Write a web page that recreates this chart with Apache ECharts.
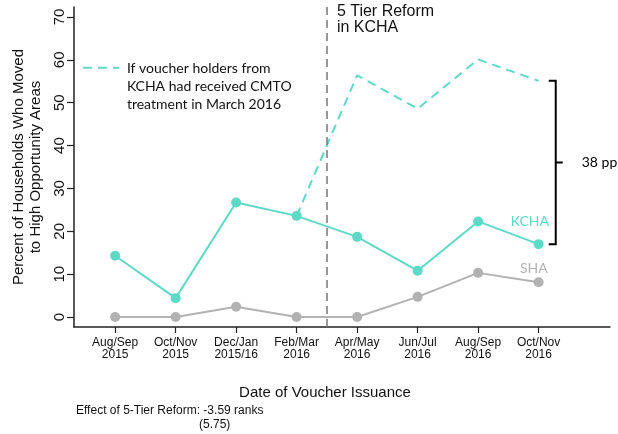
<!DOCTYPE html>
<html>
<head>
<meta charset="utf-8">
<script src="https://cdn.jsdelivr.net/npm/echarts@6/dist/echarts.min.js"></script>
<style>
  html, body { margin: 0; padding: 0; background: #fff; }
  #chart { width: 618px; height: 434px; }
</style>
</head>
<body>
<div id="chart"></div>
<script>
// data
const periods = ['Aug/Sep\n2015', 'Oct/Nov\n2015', 'Dec/Jan\n2015/16', 'Feb/Mar\n2016',
  'Apr/May\n2016', 'Jun/Jul\n2016', 'Aug/Sep\n2016', 'Oct/Nov\n2016'];
const kcha = [14.3, 4.4, 26.7, 23.6, 18.7, 10.8, 22.3, 17.0];
const sha = [0, 0, 2.4, 0, 0, 4.7, 10.3, 8.1];
const cmto = [null, null, null, 23.6, 56.4, 48.6, 60.1, 55.1];
const yTicks = [0, 10, 20, 30, 40, 50, 60, 70];
const reformAt = 3.5;

const teal = '#5dd9c6';
const grey = '#b2b2b2';
const sans = 'Liberation Sans';
const calib = 'Lato';

let chartDom = document.getElementById('chart');
let chart = echarts.init(chartDom, null, { renderer: 'canvas' });

let idx = periods.map((p, i) => i);
const pairs = arr => arr.map((v, i) => [i, v]);

let option = {
  animation: false,
  grid: { left: 74, right: 8, top: 7, bottom: 107, outerBoundsMode: 'none' },
  xAxis: {
    type: 'value',
    min: -0.68,
    max: 8.18,
    axisLine: { show: true, onZero: false, lineStyle: { color: '#222', width: 1.5 } },
    axisTick: { show: true, length: 6, customValues: idx, lineStyle: { color: '#222', width: 1.2 } },
    axisLabel: {
      customValues: idx,
      formatter: v => periods[Math.round(v)],
      color: '#111', fontFamily: sans, fontSize: 12, lineHeight: 12, margin: 10
    },
    splitLine: { show: false },
    name: 'Date of Voucher Issuance',
    nameLocation: 'middle',
    nameGap: 58,
    nameTextStyle: { fontFamily: sans, fontSize: 15, color: '#111', padding: [0, 34, 0, 0] }
  },
  yAxis: {
    type: 'value',
    min: -2.33,
    max: 72.33,
    axisLine: { show: true, onZero: false, lineStyle: { color: '#222', width: 1.5 } },
    axisTick: { show: true, length: 7, customValues: yTicks, lineStyle: { color: '#222', width: 1.2 } },
    axisLabel: {
      customValues: yTicks,
      rotate: 90,
      color: '#111', fontFamily: sans, fontSize: 15, margin: 7
    },
    splitLine: { show: false },
    name: 'Percent of Households Who Moved\nto High Opportunity Areas',
    nameLocation: 'middle',
    nameGap: 27,
    nameTextStyle: { fontFamily: sans, fontSize: 15, color: '#111', lineHeight: 17 }
  },
  series: [
    {
      name: 'SHA',
      type: 'line',
      data: pairs(sha),
      symbol: 'circle',
      symbolSize: 10,
      itemStyle: { color: grey },
      lineStyle: { color: grey, width: 2 },
      z: 2
    },
    {
      name: 'KCHA',
      type: 'line',
      data: pairs(kcha),
      symbol: 'circle',
      symbolSize: 10,
      itemStyle: { color: teal },
      lineStyle: { color: teal, width: 2 },
      z: 3,
      markLine: {
        silent: true,
        symbol: 'none',
        label: { show: false },
        lineStyle: { color: '#777', type: [8, 5], width: 1.5 },
        data: [{ xAxis: reformAt }]
      }
    },
    {
      name: 'CMTO',
      type: 'line',
      data: pairs(cmto),
      connectNulls: false,
      showSymbol: false,
      lineStyle: { color: teal, width: 2, type: [9, 6] },
      z: 2
    }
  ]
};
option && chart.setOption(option);

// annotations placed through the chart's own scales
function px(x, y) { return chart.convertToPixel({ gridIndex: 0 }, [x, y]); }
let brTop = px(7.25, cmto[7]);
let brBot = px(7.25, kcha[7]);
let midY = (brTop[1] + brBot[1]) / 2;
let bx = brTop[0] + 2;
let leg = px(-0.5, 60);
let reform = px(reformAt, 70);
let kLab = px(7.17, 22.3);
let sLab = px(7.15, 11.3);

chart.setOption({
  graphic: [
    { type: 'polyline', shape: { points: [[bx - 7, brTop[1]], [bx, brTop[1]], [bx, brBot[1]], [bx - 7, brBot[1]]] },
      style: { stroke: '#000', lineWidth: 2, fill: null } },
    { type: 'line', shape: { x1: bx, y1: midY, x2: bx + 7, y2: midY }, style: { stroke: '#000', lineWidth: 2 } },
    { type: 'text', x: bx + 26, y: midY, style: { text: '38 pp', font: '14px ' + calib, fill: '#000', verticalAlign: 'middle' } },
    { type: 'line', shape: { x1: leg[0] - 2, y1: leg[1] + 8, x2: leg[0] + 34, y2: leg[1] + 8 },
      style: { stroke: teal, lineWidth: 2, lineDash: [9, 6] } },
    { type: 'text', x: leg[0] + 42, y: leg[1] - 1,
      style: { text: 'If voucher holders from\nKCHA had received CMTO\ntreatment in March 2016', font: '14px ' + calib,
        lineHeight: 18.3, fill: '#111', verticalAlign: 'top' } },
    { type: 'text', x: reform[0] + 10, y: 4,
      style: { text: '5 Tier Reform\nin KCHA', font: '16px ' + sans, lineHeight: 15.5, fill: '#111' } },
    { type: 'text', x: kLab[0], y: kLab[1], style: { text: 'KCHA', font: '14px ' + calib, fill: teal, align: 'right', verticalAlign: 'middle' } },
    { type: 'text', x: sLab[0], y: sLab[1], style: { text: 'SHA', font: '14px ' + calib, fill: grey, align: 'right', verticalAlign: 'middle' } },
    { type: 'text', x: 76, y: 405, style: { text: 'Effect of 5-Tier Reform: -3.59 ranks', font: '12px ' + sans, fill: '#111' } },
    { type: 'text', x: 199, y: 419, style: { text: '(5.75)', font: '12px ' + sans, fill: '#111' } }
  ]
});
</script>
</body>
</html>
